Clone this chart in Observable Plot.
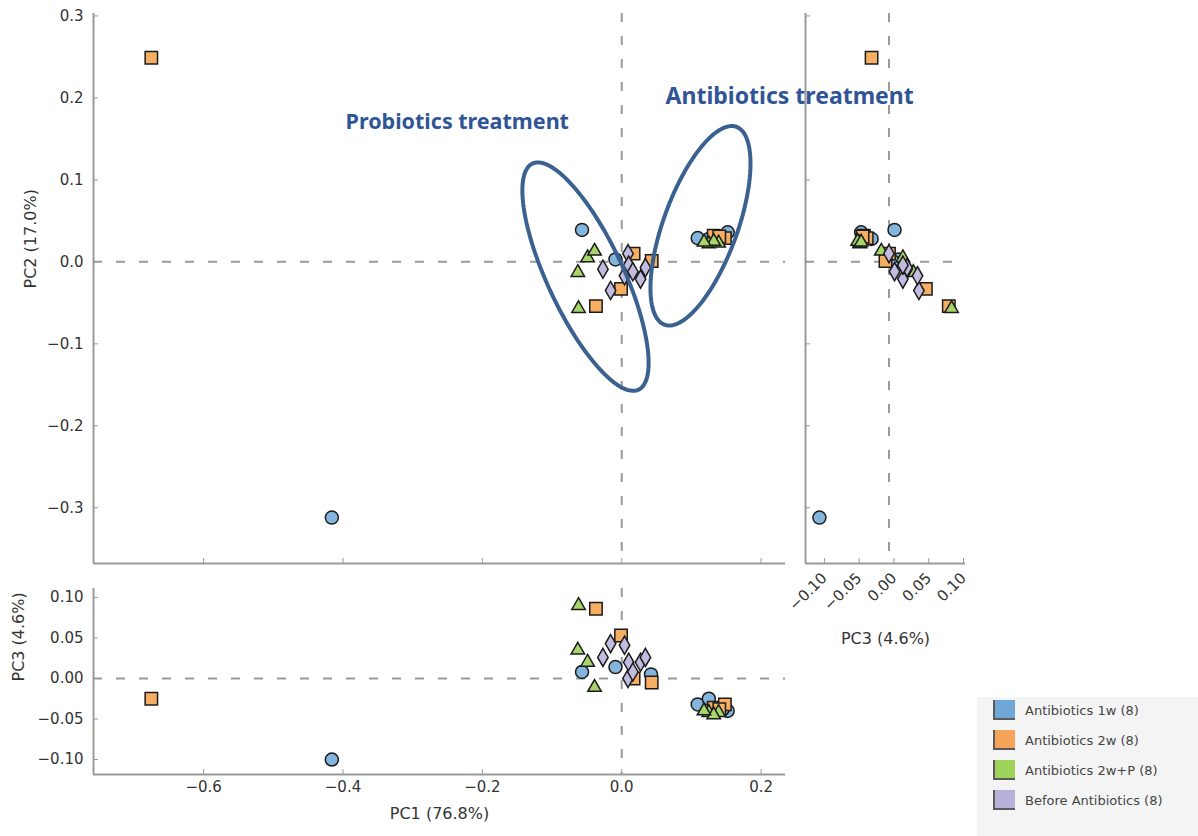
<!DOCTYPE html>
<html>
<head>
<meta charset="utf-8">
<script src="https://cdn.jsdelivr.net/npm/d3@7"></script>
<script src="https://cdn.jsdelivr.net/npm/@observablehq/plot@0.6"></script>
<style>
  body { margin: 0; background: #fff; }
  #wrap { position: relative; width: 1198px; height: 836px; overflow: hidden; font-family: "DejaVu Sans", sans-serif; }
  #wrap > svg { position: absolute; }
  #legend { position: absolute; left: 977px; top: 697px; width: 221px; height: 139px; background: #f4f4f4; }
  .item { position: absolute; left: 16px; height: 22px; display: flex; align-items: center; }
  .sw { width: 22px; height: 20px; border-left: 2px solid #5a5a5a; border-bottom: 2px solid #5a5a5a; box-sizing: border-box; margin-right: 10px; }
  .lab { font-size: 13px; color: #444; font-family: "DejaVu Sans", sans-serif; }
</style>
</head>
<body>
<div id="wrap"><div id="legend"></div></div>
<script>
// ---------------- data ----------------
const groupNames = ["Antibiotics 1w (8)", "Antibiotics 2w (8)", "Antibiotics 2w+P (8)", "Before Antibiotics (8)"];

const pc1_ab1w = [-0.416, -0.057, -0.009, 0.042, 0.109, 0.125, 0.152, 0.145];
const pc2_ab1w = [-0.312, 0.039, 0.003, 0.001, 0.029, 0.028, 0.036, 0.030];
const pc3_ab1w = [-0.100, 0.008, 0.014, 0.005, -0.032, -0.025, -0.040, -0.038];

const pc1_ab2w = [-0.675, -0.037, -0.001, 0.017, 0.043, 0.132, 0.148, 0.140];
const pc2_ab2w = [0.249, -0.054, -0.033, 0.010, 0.001, 0.032, 0.029, 0.031];
const pc3_ab2w = [-0.025, 0.086, 0.053, 0.000, -0.005, -0.036, -0.032, -0.038];

const pc1_ab2wP = [-0.062, -0.063, -0.049, -0.039, 0.125, 0.139, 0.132, 0.118];
const pc2_ab2wP = [-0.057, -0.013, 0.005, 0.013, 0.022, 0.023, 0.025, 0.024];
const pc3_ab2wP = [0.090, 0.035, 0.020, -0.011, -0.042, -0.042, -0.045, -0.040];

const pc1_before = [-0.027, -0.016, 0.009, 0.004, 0.027, 0.034, 0.010, 0.016];
const pc2_before = [-0.009, -0.035, 0.010, -0.017, -0.021, -0.007, -0.004, -0.012];
const pc3_before = [0.026, 0.043, 0.000, 0.041, 0.020, 0.026, 0.020, 0.008];

const ticksPC1 = [-0.6, -0.4, -0.2, 0.0, 0.2];
const ticksPC2 = [-0.3, -0.2, -0.1, 0.0, 0.1, 0.2, 0.3];
const ticksPC3 = [-0.10, -0.05, 0.00, 0.05, 0.10];

const labelPC1 = "PC1 (76.8%)";
const labelPC2 = "PC2 (17.0%)";
const labelPC3 = "PC3 (4.6%)";

// annotations (data coordinates of the PC1 × PC2 panel)
const annoText = ["Probiotics treatment", "Antibiotics treatment"];
const annoPC1 = [-0.236, 0.241];
const annoPC2 = [0.170, 0.201];
// ellipse: centre, half-axis vector u, half-axis vector v (PC1, PC2 units)
const ellCenterPC1 = [-0.052, 0.113];
const ellCenterPC2 = [-0.018, 0.044];
const ellU_PC1 = [-0.076, 0.0516];
const ellU_PC2 = [0.138, 0.1207];
const ellV_PC1 = [0.0493, 0.0499];
const ellV_PC2 = [0.0196, -0.0155];

// ---------------- styling ----------------
const fills = ["#84B6DD", "#F6AE62", "#A6D669", "#C2BCE0"];
const swatchFills = ["#6EA7D8", "#F5A45A", "#9DD35A", "#B7B1D9"];
const symbols = ["circle", "square", "triangle", "diamond"];
const radii = [6.5, 7, 5, 5.5];
const annoSizes = [21.5, 23];
const spine = "#9a9a9a";
const dash = "9,14";
const annoColor = "#2F5597";
const ellColor = "#3A6190";

// ---------------- build rows ----------------
const series = [
  [pc1_ab1w, pc2_ab1w, pc3_ab1w],
  [pc1_ab2w, pc2_ab2w, pc3_ab2w],
  [pc1_ab2wP, pc2_ab2wP, pc3_ab2wP],
  [pc1_before, pc2_before, pc3_before]
];
const rows = [];
series.forEach((s, gi) => s[0].forEach((v, i) => rows.push({group: groupNames[gi], gi, pc1: s[0][i], pc2: s[1][i], pc3: s[2][i]})));

const annos = annoText.map((t, i) => ({text: t, pc1: annoPC1[i], pc2: annoPC2[i], size: annoSizes[i]}));
const ellPts = [];
ellCenterPC1.forEach((c, k) => {
  for (let j = 0; j <= 120; j++) {
    const t = (j / 120) * 2 * Math.PI;
    ellPts.push({k, pc1: c + ellU_PC1[k] * Math.cos(t) + ellV_PC1[k] * Math.sin(t),
                    pc2: ellCenterPC2[k] + ellU_PC2[k] * Math.cos(t) + ellV_PC2[k] * Math.sin(t)});
  }
});

function dotMarks(xk, yk) {
  return groupNames.map((g, gi) => Plot.dot(rows.filter(r => r.gi === gi), {
    x: xk, y: yk, symbol: symbols[gi], r: radii[gi], fill: fills[gi], stroke: "#1b1b1b", strokeWidth: 1.5
  }));
}
const svgStyle = "background:transparent;overflow:visible;font-family:'DejaVu Sans',sans-serif;font-size:15px;color:#333";
const f1 = d3.format(".1f"), f2 = d3.format(".2f");

const xDomPC1 = [-0.758, 0.235];
const yDomPC2 = [-0.368, 0.303];
const yDomPC3 = [-0.1185, 0.111];
const xDomPC3 = [-0.12, 0.11];

const wrap = document.getElementById("wrap");
function place(el, left, top) { el.style.position = "absolute"; el.style.left = left + "px"; el.style.top = top + "px"; wrap.appendChild(el); }

// ---------------- right panel: PC3 × PC2 ----------------
const right = Plot.plot({
  width: 200, height: 660, marginLeft: 15, marginRight: 25, marginTop: 13, marginBottom: 97,
  style: svgStyle,
  x: {domain: xDomPC3, label: null},
  y: {domain: yDomPC2, label: null},
  marks: [
    Plot.ruleX([0], {stroke: spine, strokeWidth: 2, strokeDasharray: dash}),
    Plot.ruleY([0], {stroke: spine, strokeWidth: 2, strokeDasharray: dash}),
    Plot.ruleX([xDomPC3[0]], {stroke: spine, strokeWidth: 2}),
    Plot.ruleY([yDomPC2[0]], {stroke: spine, strokeWidth: 2}),
    Plot.axisY(ticksPC2, {tickSize: -5, tickFormat: () => "", stroke: spine, label: null}),
    Plot.axisX(ticksPC3, {tickSize: -5, tickPadding: 17, dx: 5, tickRotate: -45, tickFormat: f2, stroke: spine, fill: "#333", fontSize: 15, label: null}),
    ...dotMarks("pc3", "pc2"),
    Plot.text([labelPC3], {frameAnchor: "bottom", dy: 80, text: d => d, fontSize: 16, fill: "#333"})
  ]
});
place(right, 790, 0);

// ---------------- main panel: PC1 × PC2 ----------------
const main = Plot.plot({
  width: 970, height: 580, marginLeft: 93, marginRight: 185, marginTop: 13, marginBottom: 17,
  style: svgStyle,
  x: {domain: xDomPC1, label: null},
  y: {domain: yDomPC2, label: null},
  marks: [
    Plot.ruleX([0], {stroke: spine, strokeWidth: 2, strokeDasharray: dash}),
    Plot.ruleY([0], {stroke: spine, strokeWidth: 2, strokeDasharray: dash}),
    Plot.ruleX([xDomPC1[0]], {stroke: spine, strokeWidth: 2}),
    Plot.ruleY([yDomPC2[0]], {stroke: spine, strokeWidth: 2}),
    Plot.axisY(ticksPC2, {tickSize: -5, tickPadding: 15, tickFormat: f1, stroke: spine, fill: "#333", fontSize: 15, label: null}),
    Plot.axisX(ticksPC1, {tickSize: -5, tickFormat: () => "", stroke: spine, label: null}),
    ...dotMarks("pc1", "pc2"),
    Plot.line(ellPts, {x: "pc1", y: "pc2", z: "k", stroke: ellColor, strokeWidth: 4, curve: "linear"}),
    Plot.text(annos, {x: "pc1", y: "pc2", text: "text", fill: annoColor, fontSize: "size", fontWeight: "bold", fontFamily: "Noto Sans"}),
    Plot.text([labelPC2], {frameAnchor: "left", dx: -63, rotate: -90, text: d => d, fontSize: 16, fill: "#333"})
  ]
});
place(main, 0, 0);

// ---------------- bottom panel: PC1 × PC3 ----------------
const bottom = Plot.plot({
  width: 800, height: 256, marginLeft: 93, marginRight: 15, marginTop: 8, marginBottom: 62,
  style: svgStyle,
  x: {domain: xDomPC1, label: null},
  y: {domain: yDomPC3, label: null},
  marks: [
    Plot.ruleX([0], {stroke: spine, strokeWidth: 2, strokeDasharray: dash}),
    Plot.ruleY([0], {stroke: spine, strokeWidth: 2, strokeDasharray: dash}),
    Plot.ruleX([xDomPC1[0]], {stroke: spine, strokeWidth: 2}),
    Plot.ruleY([yDomPC3[0]], {stroke: spine, strokeWidth: 2}),
    Plot.axisY(ticksPC3, {tickSize: -5, tickPadding: 15, tickFormat: f2, stroke: spine, fill: "#333", fontSize: 15, label: null}),
    Plot.axisX(ticksPC1, {tickSize: -5, tickPadding: 12, tickFormat: f1, stroke: spine, fill: "#333", fontSize: 15, label: null}),
    ...dotMarks("pc1", "pc3"),
    Plot.text([labelPC1], {frameAnchor: "bottom", dy: 44, text: d => d, fontSize: 16, fill: "#333"}),
    Plot.text([labelPC3], {frameAnchor: "left", dx: -75, rotate: -90, text: d => d, fontSize: 16, fill: "#333"})
  ]
});
place(bottom, 0, 580);

// ---------------- legend ----------------
const legend = document.getElementById("legend");
groupNames.forEach((g, i) => {
  const it = document.createElement("div");
  it.className = "item";
  it.style.top = (2 + i * 30) + "px";
  it.innerHTML = `<div class="sw" style="background:${swatchFills[i]}"></div><span class="lab">${g}</span>`;
  legend.appendChild(it);
});
</script>
</body>
</html>
